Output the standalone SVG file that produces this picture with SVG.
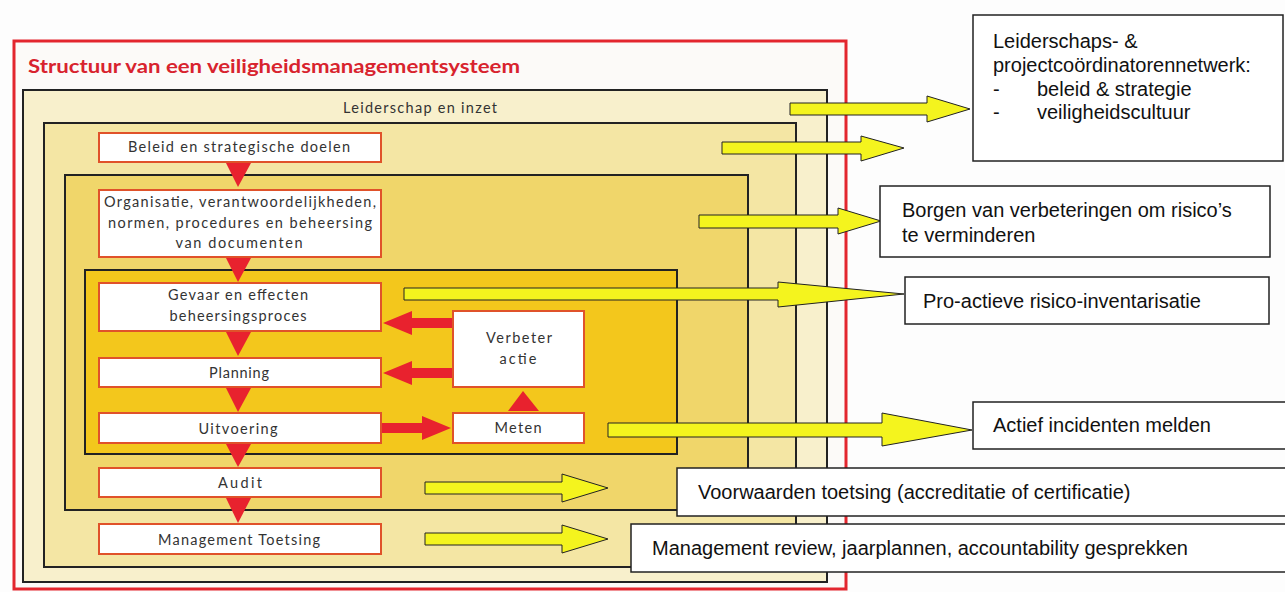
<svg xmlns="http://www.w3.org/2000/svg" width="1285" height="592" viewBox="0 0 1285 592">
<style>
.node{fill:#ffffff;stroke:#e0522a;stroke-width:2}
.nt{font-family:Lato,"Open Sans",sans-serif;font-size:14.5px;fill:#333;text-anchor:middle}
.tri{fill:#e8222e}
.ya{fill:#f4f41e;stroke:#222;stroke-width:1}
.ra{fill:#e8222e}
.box{fill:#ffffff;stroke:#222;stroke-width:1.5}
.bt{font-family:"Liberation Sans",Arial,sans-serif;font-size:20px;fill:#111}
</style>
<rect width="1285" height="592" fill="#fdfdfd"/>
<g id="frame">
<rect x="14" y="41" width="832" height="548" fill="#fcfaf8" stroke="#e3262e" stroke-width="3"/>
<text x="28" y="73" font-family="Lato,'Open Sans',sans-serif" font-weight="bold" font-size="19" fill="#d8232e" textLength="492" lengthAdjust="spacingAndGlyphs">Structuur van een veiligheidsmanagementsysteem</text>
</g>
<g id="level1">
<rect x="23" y="90" width="804" height="492" fill="#f8f0cc" stroke="#222" stroke-width="2"/>
<text x="420" y="113" class="nt" textLength="154">Leiderschap en inzet</text>
</g>
<g id="level2"><rect x="44" y="123" width="752" height="444" fill="#f4e6a4" stroke="#222" stroke-width="2"/></g>
<g id="level3"><rect x="65" y="175" width="683" height="335" fill="#f0d66a" stroke="#222" stroke-width="2"/></g>
<g id="level4"><rect x="85" y="270" width="592" height="184" fill="#f3c71c" stroke="#222" stroke-width="2"/></g>

<g id="connectors">
<polygon class="tri" points="226,163 251,163 238,187"/>
<polygon class="tri" points="226,258 251,258 238,282"/>
<polygon class="tri" points="226,332 251,332 238,356"/>
<polygon class="tri" points="226,388 251,388 238,412"/>
<polygon class="tri" points="226,444 251,444 238,467"/>
<polygon class="tri" points="226,498 251,498 238,523"/>
<polygon class="tri" points="508,411 539,411 523,391"/>
<polygon class="ra" points="453,318 412,318 412,311 383,323 412,335 412,328 453,328"/>
<polygon class="ra" points="453,368 412,368 412,361 383,373 412,385 412,378 453,378"/>
<polygon class="ra" points="381,423 422,423 422,416 451,428 422,440 422,433 381,433"/>
<polygon class="ya" points="790,103 927,103 927,96 970,109 927,122 927,115 790,115"/>
<polygon class="ya" points="722,142 861,142 861,136 904,148 861,161 861,154 722,154"/>
<polygon class="ya" points="699,215 838,215 838,208 881,221 838,234 838,228 699,228"/>
<polygon class="ya" points="404,288 778,288 778,282 904,294 778,307 778,300 404,300"/>
<polygon class="ya" points="608,423 882,423 882,413 972,430 882,446 882,437 608,437"/>
<polygon class="ya" points="425,482 562,482 562,474 608,488 562,502 562,494 425,494"/>
<polygon class="ya" points="425,533 562,533 562,525 608,539 562,553 562,545 425,545"/>
</g>

<g id="n-beleid"><rect class="node" x="99" y="133" width="282" height="29"/><text class="nt" x="239" y="152" textLength="222">Beleid en strategische doelen</text></g>
<g id="n-organisatie"><rect class="node" x="99" y="190" width="282" height="67"/>
<text class="nt" x="240" y="207" textLength="272">Organisatie, verantwoordelijkheden,</text>
<text class="nt" x="240" y="228" textLength="264">normen, procedures en beheersing</text>
<text class="nt" x="239" y="248" textLength="127">van documenten</text></g>
<g id="n-gevaar"><rect class="node" x="99" y="283" width="282" height="48"/>
<text class="nt" x="238" y="300" textLength="140">Gevaar en effecten</text>
<text class="nt" x="238" y="321" textLength="137">beheersingsproces</text></g>
<g id="n-planning"><rect class="node" x="99" y="358" width="282" height="29"/><text class="nt" x="239" y="378" textLength="60">Planning</text></g>
<g id="n-uitvoering"><rect class="node" x="99" y="413" width="282" height="30"/><text class="nt" x="238" y="434" textLength="79">Uitvoering</text></g>
<g id="n-audit"><rect class="node" x="99" y="468" width="282" height="29"/><text class="nt" x="240" y="488" textLength="44">Audit</text></g>
<g id="n-mt"><rect class="node" x="99" y="524" width="282" height="30"/><text class="nt" x="239" y="545" textLength="162">Management Toetsing</text></g>
<g id="n-verbeter"><rect class="node" x="453" y="311" width="131" height="76"/>
<text class="nt" x="519" y="343" textLength="66">Verbeter</text><text class="nt" x="518" y="364" textLength="37">actie</text></g>
<g id="n-meten"><rect class="node" x="453" y="413" width="131" height="30"/><text class="nt" x="518" y="433" textLength="47">Meten</text></g>

<g id="b-leiderschaps"><rect class="box" x="973" y="15" width="310" height="146"/>
<text class="bt" x="993" y="48">Leiderschaps- &amp;</text>
<text class="bt" x="993" y="72">projectcoördinatorennetwerk:</text>
<text class="bt" x="993" y="96">-</text><text class="bt" x="1037" y="96">beleid &amp; strategie</text>
<text class="bt" x="993" y="119">-</text><text class="bt" x="1037" y="119">veiligheidscultuur</text></g>
<g id="b-borgen"><rect class="box" x="880" y="186" width="390" height="71"/>
<text class="bt" x="902" y="217">Borgen van verbeteringen om risico’s</text>
<text class="bt" x="902" y="242">te verminderen</text></g>
<g id="b-proactief"><rect class="box" x="905" y="277" width="364" height="47"/>
<text class="bt" x="923" y="308">Pro-actieve risico-inventarisatie</text></g>
<g id="b-actief"><rect class="box" x="973" y="402" width="317" height="47"/>
<text class="bt" x="993" y="432">Actief incidenten melden</text></g>
<g id="b-voorwaarden"><rect class="box" x="677" y="468" width="613" height="48"/>
<text class="bt" x="698" y="499">Voorwaarden toetsing (accreditatie of certificatie)</text></g>
<g id="b-management"><rect class="box" x="631" y="524" width="659" height="48"/>
<text class="bt" x="652" y="555">Management review, jaarplannen, accountability gesprekken</text></g>
</svg>
